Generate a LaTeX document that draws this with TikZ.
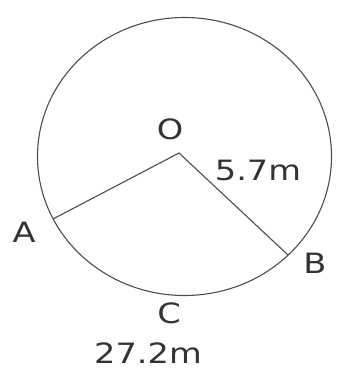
\documentclass[tikz,border=0pt]{standalone}
\usepackage{fontspec}
\setmainfont{DejaVu Sans}
\begin{document}
\begin{tikzpicture}[x=1pt,y=-1pt,
  lbl/.style={inner sep=0pt,anchor=center,text=black!80,font=\fontsize{28}{28}\selectfont},
  edge/.style={draw=black!70,line width=1.1pt}]
\useasboundingbox (0,0) rectangle (339,376);
\coordinate (O) at (179,153);
\coordinate (A) at (53,219);
\coordinate (B) at (288,255);
\draw[edge] (184.5,156.5) ellipse [x radius=147, y radius=139];
\draw[edge] (A) -- (O) -- (B);
\node[lbl] (lO) at (170,129) {\scalebox{1.2}[1]{O}};
\node[lbl] (lA) at (24,232) {\scalebox{1.2}[1]{A}};
\node[lbl] (lB) at (315,263) {\scalebox{1.2}[1]{B}};
\node[lbl] (lC) at (169,313) {\scalebox{1.2}[1]{C}};
\node[lbl] (lr) at (258,170) {\scalebox{1.2}[1]{5.7m}};
\node[lbl] (ls) at (148,353) {\scalebox{1.2}[1]{27.2m}};
\end{tikzpicture}
\end{document}
